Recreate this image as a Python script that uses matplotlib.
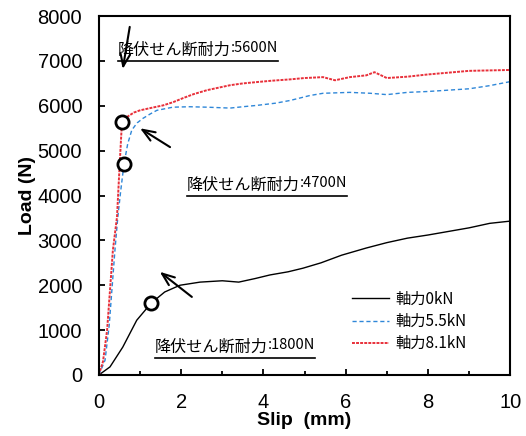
import matplotlib
matplotlib.use("Agg")
import matplotlib.pyplot as plt
from matplotlib.lines import Line2D
from matplotlib.ticker import MultipleLocator

plt.rcParams['font.family'] = ['Liberation Sans', 'DejaVu Sans']
JP = ['Noto Sans CJK JP', 'DejaVu Sans']

# Load-slip curves for three axial forces
slip_0 = [0, 0.27, 0.58, 0.92, 1.27, 1.6, 1.97, 2.46, 3.0, 3.4, 3.8, 4.16, 4.6, 4.96,
          5.4, 5.9, 6.5, 7.0, 7.5, 8.0, 8.5, 9.0, 9.5, 10.0]
load_0 = [0, 180, 620, 1220, 1600, 1850, 2000, 2070, 2100, 2070, 2150, 2230, 2300, 2380,
          2500, 2670, 2830, 2950, 3050, 3120, 3200, 3280, 3380, 3430]

slip_55 = [0, 0.15, 0.25, 0.39, 0.46, 0.53, 0.61, 0.7, 0.8, 0.93, 1.07, 1.25, 1.41, 1.8,
           2.2, 2.63, 3.19, 3.5, 3.84, 4.3, 4.65, 5.13, 5.45, 6.1, 6.6, 7.0, 7.5, 8.0,
           8.5, 9.0, 9.5, 10.0]
load_55 = [0, 330, 1100, 2780, 3520, 4100, 4700, 5150, 5460, 5620, 5720, 5820, 5900, 5970,
           5980, 5970, 5950, 5980, 6010, 6060, 6120, 6230, 6280, 6300, 6280, 6250, 6300, 6320,
           6350, 6380, 6450, 6540]

slip_81 = [0, 0.1, 0.2, 0.34, 0.44, 0.5, 0.56, 0.68, 0.85, 1.0, 1.3, 1.56, 1.8, 2.04, 2.3,
           2.63, 3.19, 3.5, 3.84, 4.2, 4.65, 5.0, 5.45, 5.74, 6.1, 6.5, 6.7, 7.0, 7.5, 8.0,
           8.5, 9.0, 9.5, 10.0]
load_81 = [0, 300, 1000, 2780, 3520, 4600, 5630, 5750, 5850, 5900, 5960, 6010, 6080, 6170, 6260,
           6350, 6460, 6500, 6530, 6560, 6590, 6620, 6640, 6570, 6640, 6680, 6750, 6620, 6650, 6700,
           6740, 6780, 6790, 6800]

labels = ['軸力0kN', '軸力5.5kN', '軸力8.1kN']

# yield points (circles)
yield_x = [1.27, 0.61, 0.56]
yield_y = [1600, 4700, 5630]

# annotation texts
ann_main = '降伏せん断耐力'
ann_vals = [':5600N', ':4700N', ':1800N']

fig = plt.figure(figsize=(5.26, 4.36), dpi=100)
ax = fig.add_axes([0.188, 0.140, 0.782, 0.823])

ax.plot(slip_0, load_0, color='black', lw=1.0, label=labels[0])
ax.plot(slip_55, load_55, color='#2F87D8', lw=1.0, ls=(0, (3, 2)), label=labels[1])
ax.plot(slip_81, load_81, color='#E8303A', lw=1.4, ls=(0, (1.5, 0.6)), label=labels[2])

ax.plot(yield_x, yield_y, 'o', ms=9.5, mfc='white', mec='black', mew=2.0, zorder=5)

ax.set_xlim(0, 10)
ax.set_ylim(0, 8000)
ax.xaxis.set_major_locator(MultipleLocator(2))
ax.xaxis.set_minor_locator(MultipleLocator(1))
ax.yaxis.set_major_locator(MultipleLocator(1000))
ax.tick_params(axis='both', which='both', direction='in', labelsize=14.5, width=1.3)
ax.tick_params(axis='both', which='major', length=4)
ax.tick_params(axis='both', which='minor', length=3)
ax.tick_params(axis='x', pad=13)
ax.tick_params(axis='y', pad=12)
for sp in ax.spines.values():
    sp.set_linewidth(1.5)

ax.set_xlabel('Slip  (mm)', fontsize=14, fontweight='bold', labelpad=0)
ax.set_ylabel('Load (N)', fontsize=14, fontweight='bold', labelpad=1)

leg = ax.legend(loc='upper left', bbox_to_anchor=(0.59, 0.265), frameon=False,
                prop={'family': JP, 'size': 11}, handlelength=2.4, labelspacing=0.35,
                borderpad=0.2, handletextpad=0.4)

# annotations with underline
ann_pos = [(0.46, 7240), (2.14, 4230), (1.36, 620)]
pairs = []
for (x, y), v in zip(ann_pos, ann_vals):
    t1 = ax.text(x, y, ann_main, family=JP, fontsize=11.6, va='center', ha='left')
    t2 = ax.annotate(v, xy=(1, 0.2), xycoords=t1, va='bottom', ha='left', fontsize=10.5,
                     family=JP)
    pairs.append((t1, t2))

# arrows
arrows = [((0.75, 7760), (0.58, 6820)), ((1.73, 5080), (1.0, 5500)), ((2.26, 1740), (1.48, 2300))]
for tail, head in arrows:
    ax.annotate('', xy=head, xytext=tail,
                arrowprops=dict(arrowstyle='->,head_length=0.9,head_width=0.35', lw=1.5,
                                color='black', shrinkA=0, shrinkB=0))

fig.canvas.draw()
r = fig.canvas.get_renderer()
W, H = fig.bbox.width, fig.bbox.height
for t1, t2 in pairs:
    b1 = t1.get_window_extent(r)
    b2 = t2.get_window_extent(r)
    yy = (b1.y0 - 2) / H
    fig.add_artist(Line2D([b1.x0 / W, b2.x1 / W], [yy, yy], color='black', lw=1.2,
                          transform=fig.transFigure))

fig.savefig('out.png', dpi=100)
